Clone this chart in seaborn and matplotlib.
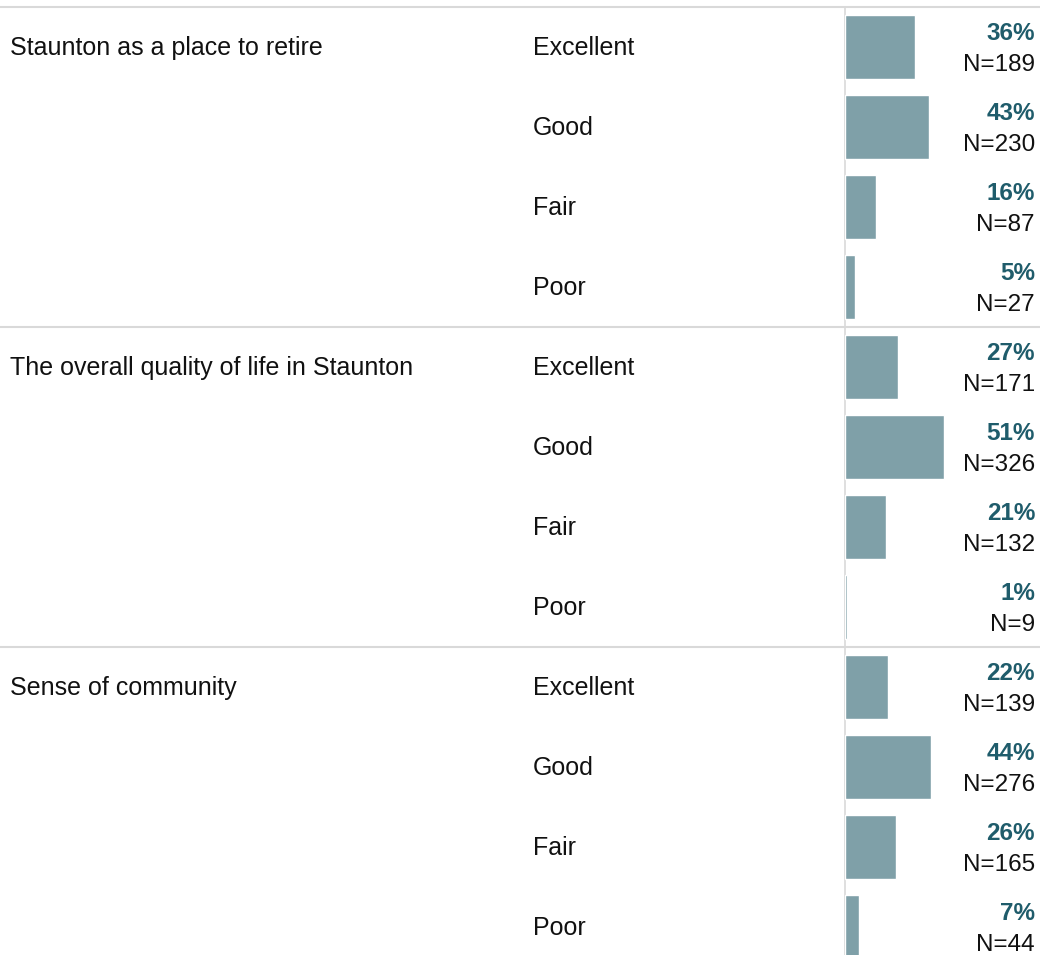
import matplotlib
matplotlib.use("Agg")
import matplotlib.pyplot as plt
import matplotlib.transforms as mtransforms
import seaborn as sns
import pandas as pd

sns.set_theme(style="white")
plt.rcParams['font.family'] = ['Liberation Sans', 'DejaVu Sans']
FAM = ['Liberation Sans', 'DejaVu Sans']

questions = ["Staunton as a place to retire",
             "The overall quality of life in Staunton",
             "Sense of community"]
ratings = ["Excellent", "Good", "Fair", "Poor"]
pct_retire = [36, 43, 16, 5]
n_retire = [189, 230, 87, 27]
pct_quality = [27, 51, 21, 1]
n_quality = [171, 326, 132, 9]
pct_community = [22, 44, 26, 7]
n_community = [139, 276, 165, 44]

pcts = [pct_retire, pct_quality, pct_community]
ns = [n_retire, n_quality, n_community]

rows = []
for qi, q in enumerate(questions):
    for ri, r in enumerate(ratings):
        rows.append({"row": qi * 4 + ri, "question": q, "rating": r,
                     "pct": pcts[qi][ri], "n": ns[qi][ri]})
df = pd.DataFrame(rows)

W, H = 1040, 955
fig = plt.figure(figsize=(W / 100, H / 100), dpi=100)

row_px = 80.0
top_px = 7.0
n_rows_vis = (H - top_px) / row_px
ax = fig.add_axes([845 / W, 0, (W - 845) / W, (H - top_px) / H])

bar_color = "#7FA0A8"
sns.barplot(data=df, y="row", x="pct", orient="h", order=list(range(12)),
            color=bar_color, width=0.79, saturation=1, ax=ax, errorbar=None)
ax.set_xlim(0, 100)
ax.set_ylim(-0.5 + n_rows_vis, -0.5)
ax.set_axis_off()

trans = mtransforms.blended_transform_factory(fig.transFigure, ax.transData)
fs = 18
for _, r in df.iterrows():
    y = r["row"]
    if r["row"] % 4 == 0:
        ax.text(10 / W, y + 0.1, r["question"], transform=trans, ha="left",
                va="baseline", fontsize=fs, color="#111111", clip_on=False,
                family=FAM)
    ax.text(533 / W, y + 0.1, r["rating"], transform=trans, ha="left",
            va="baseline", fontsize=fs, color="#111111", clip_on=False,
            family=FAM)
    ax.text(1035 / W, y - 0.09, f"{r['pct']}%", transform=trans, ha="right",
            va="baseline", fontsize=fs - 0.5, color="#1F5C6B", fontweight="bold",
            clip_on=False, family=FAM)
    ax.text(1035 / W, y + 0.305, f"N={r['n']}", transform=trans, ha="right",
            va="baseline", fontsize=fs - 0.5, color="#111111", clip_on=False,
            family=FAM)

# separators between question groups
for qi in range(len(questions)):
    yline = qi * 4 - 0.5
    ax.plot([0, 1], [yline, yline], transform=trans, color="#D9D9D9",
            lw=1.5, clip_on=False, zorder=0)
# vertical baseline at bars' origin
ax.plot([0, 0], [-0.5, -0.5 + n_rows_vis], color="#D9D9D9", lw=1.2,
        clip_on=False, zorder=0)

fig.savefig("out.png", dpi=100)
